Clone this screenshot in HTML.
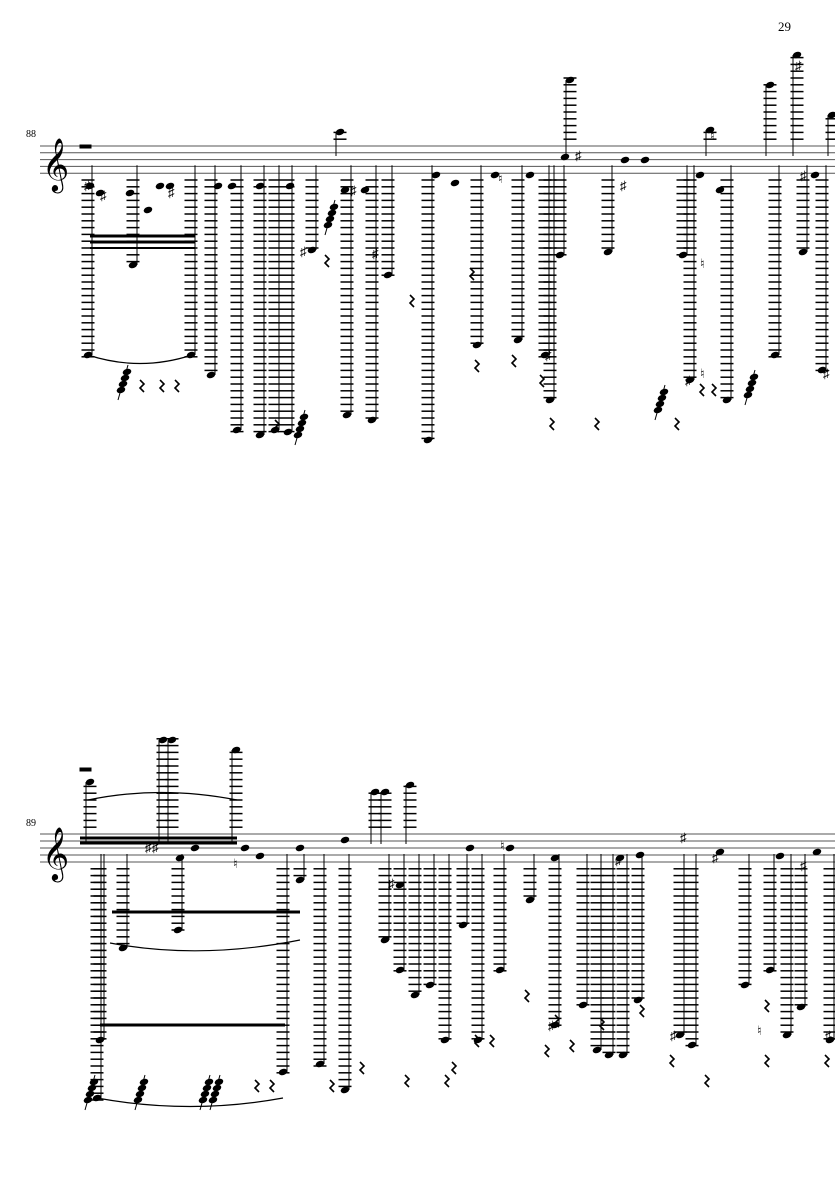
<!DOCTYPE html>
<html><head><meta charset="utf-8"><style>
html,body{margin:0;padding:0;background:#fff;width:835px;height:1181px;overflow:hidden}
svg{position:absolute;left:0;top:0}
</style></head><body>
<svg id="s" width="835" height="1181" xmlns="http://www.w3.org/2000/svg" font-family="Liberation Serif, serif">
<text x="778" y="31" font-size="13">29</text>
<text x="26" y="137" font-size="10">88</text>
<text x="26" y="826" font-size="10">89</text>
<g id="g" stroke="#000" fill="#000"></g>
</svg>
<script>
var g=document.getElementById('g'),h='';
function L(x1,y1,x2,y2,w,c){h+='<line x1="'+x1+'" y1="'+y1+'" x2="'+x2+'" y2="'+y2+'" stroke-width="'+(w||1)+'" stroke="'+(c||'#000')+'"/>';}
function N(x,y){h+='<ellipse cx="'+x+'" cy="'+y+'" rx="4.4" ry="3.1" transform="rotate(-20 '+x+' '+y+')" stroke="none"/>';}
function T(x,y,t,s){h+='<text x="'+x+'" y="'+y+'" font-size="'+(s||14)+'" stroke="none">'+t+'</text>';}
function R(x,y){h+='<path d="M'+x+' '+y+' l4 4 l-4 4 l4 4" fill="none" stroke-width="1.6"/>';}
var S1=[146,152.8,159.6,166.4,173.2],S2=[834,841,848,855,862],sp=6.8;
S1.forEach(function(y){L(40,y,835,y,1,'#555')});
S2.forEach(function(y){L(40,y,835,y,1,'#555')});
T(42,180,'𝄞',46);T(42,869,'𝄞',46);
function down(x,yb,base,stemUp){for(var y=base+sp;y<=yb+2;y+=sp)L(x-6.5,y,x+6.5,y,1.5);N(x,yb);if(stemUp)L(x+4,yb,x+4,base-8,1);else L(x-4,yb,x-4,yb+20,1);}
function up(x,yt,base){for(var y=base-sp;y>=yt-2;y-=sp)L(x-6.5,y,x+6.5,y,1.5);N(x,yt);L(x-4,yt,x-4,base+10,1);}
var b1=173.2,t1=146,b2=862,t2=834;
[[88,355],[133,265],[191,355],[211,375],[237,430],[260,435],[275,430],[288,432],[312,250],[347,415],[372,420],[388,275],[428,440],[477,345],[518,340],[550,400],[560,255],[608,252],[683,255],[690,380],[727,400],[775,355],[803,252],[822,370],[545,355]].forEach(function(a){down(a[0],a[1],b1,true)});
[[340,132],[570,80],[710,130],[770,85],[797,55],[832,115]].forEach(function(a){up(a[0],a[1],t1)});
[[97,1098],[123,948],[283,1072],[300,880],[320,1064],[345,1090],[385,940],[400,970],[415,995],[430,985],[445,1040],[463,925],[478,1040],[500,970],[530,900],[555,1025],[583,1005],[597,1050],[609,1055],[623,1055],[638,1000],[680,1035],[692,1045],[745,985],[770,970],[787,1035],[801,1007],[830,1040],[178,930],[100,1040]].forEach(function(a){down(a[0],a[1],b2,true)});
[[163,740],[172,740],[236,750],[90,782],[375,792],[385,792],[410,785]].forEach(function(a){up(a[0],a[1],t2)});
[[90,186],[100,193],[130,193],[148,210],[160,186],[170,186],[218,186],[232,186],[260,186],[290,186],[345,190],[365,190],[436,175],[455,183],[495,175],[530,175],[565,157],[625,160],[645,160],[700,175],[720,190],[815,175],[180,858],[195,848],[245,848],[260,856],[300,848],[345,840],[400,885],[470,848],[510,848],[555,858],[620,858],[640,855],[720,852],[780,856],[817,852]].forEach(function(p){N(p[0],p[1]);});
L(90,236,195,236,3);L(90,242,195,242,3);L(90,248,195,248,2);
L(80,838,237,838,3);L(80,843,237,843,3);
L(112,912,300,912,3);L(100,1025,285,1025,3);
h+='<path d="M88 355 Q140 372 192 355" fill="none" stroke-width="1.2"/>';
h+='<path d="M88 800 Q160 785 237 800" fill="none" stroke-width="1.2"/>';
h+='<path d="M110 943 Q200 960 300 940" fill="none" stroke-width="1.2"/>';
h+='<path d="M97 1098 Q190 1115 283 1098" fill="none" stroke-width="1.2"/>';
[[84,190],[100,200],[168,197],[300,256],[350,195],[372,258],[575,160],[620,190],[795,70],[800,180],[545,360],[685,385],[823,378],[145,852],[152,852],[388,888],[548,1030],[670,1040],[800,870],[825,1040],[615,865],[712,862],[680,842]].forEach(function(p){T(p[0],p[1],'♯',13)});
[[498,183],[700,378],[700,268],[710,140],[233,868],[757,1035],[500,850]].forEach(function(p){T(p[0],p[1],'♮',13)});
[[325,255],[410,295],[470,268],[475,360],[512,355],[540,375],[550,418],[595,418],[675,418],[275,420],[360,1062],[405,1075],[452,1062],[475,1035],[490,1035],[525,990],[555,1015],[570,1040],[600,1018],[640,1005],[670,1055],[705,1075],[765,1055],[825,1055],[445,1075],[330,1080],[255,1080],[140,380],[160,380],[175,380],[700,384],[712,384],[765,1000],[270,1080],[545,1045]].forEach(function(p){R(p[0],p[1])});
[[118,400],[295,445],[325,235],[655,420],[745,405],[85,1110],[135,1110],[200,1110],[210,1110]].forEach(function(p){L(p[0],p[1],p[0]+10,p[1]-35,1);for(var i=0;i<4;i++)N(p[0]+3+i*2,p[1]-10-i*6);});
h+='<rect x="80" y="145" width="11" height="3"/><rect x="80" y="768" width="11" height="3"/>';
g.innerHTML=h;
</script>
</body></html>
